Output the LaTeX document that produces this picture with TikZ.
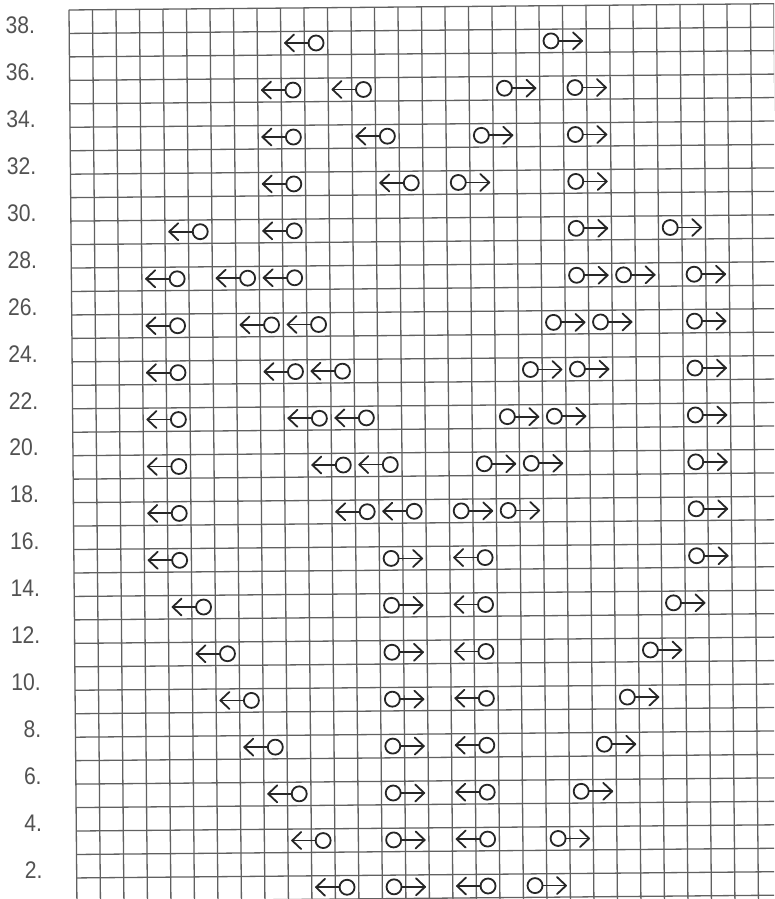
\documentclass[tikz,border=0pt]{standalone}
\usepackage{fontspec}
\newfontfamily\labfont[FakeStretch=0.88]{Liberation Sans}
\begin{document}
\begin{tikzpicture}[
  gridline/.style={line width=1.3pt, draw=black!62},
  symline/.style={line width=1.8pt, draw=black!85, line cap=round, line join=round},
  lab/.style={font=\labfont\fontsize{24}{26}\selectfont, text=black!68, anchor=base east, inner sep=0pt},
  lsym/.pic={
    \draw[symline] (0,0) circle[radius=7.5pt];
    \draw[symline] (-7.5pt,0) -- (-31pt,0);
    \draw[symline] (-22pt,8.5pt) -- (-31pt,0) -- (-22pt,-8.5pt);
  },
  rsym/.pic={
    \draw[symline] (0,0) circle[radius=7.5pt];
    \draw[symline] (7.5pt,0) -- (31pt,0);
    \draw[symline] (22pt,8.5pt) -- (31pt,0) -- (22pt,-8.5pt);
  }
]
\fill[white] (0,0) rectangle (774pt,899pt);
\useasboundingbox (0,0) rectangle (774pt,899pt);
\begin{scope}
\clip (0,0) rectangle (774pt,899pt);
\begin{scope}[shift={(69pt,889pt)}, rotate=0.51, x=23.5pt, y=-23.46pt]
  \foreach \i in {0,...,38} \draw[gridline] (0,\i) -- (31,\i);
  \foreach \c in {0,...,31} \draw[gridline] (\c,0) -- (\c,38.5);
  \foreach \r in {38,36,...,2} \node[lab] (lab\r) at (-1.45,{39-\r}) {\r.};
  \foreach \r/\ls/\rs in {
    37/{11}/{21},
    35/{10,13}/{19,22},
    33/{10,14}/{18,22},
    31/{10,15}/{17,22},
    29/{6,10}/{22,26},
    27/{5,8,10}/{22,24,27},
    25/{5,9,11}/{21,23,27},
    23/{5,10,12}/{20,22,27},
    21/{5,11,13}/{19,21,27},
    19/{5,12,14}/{18,20,27},
    17/{5,13,15}/{17,19,27},
    15/{5,18}/{14,27},
    13/{6,18}/{14,26},
    11/{7,18}/{14,25},
    9/{8,18}/{14,24},
    7/{9,18}/{14,23},
    5/{10,18}/{14,22},
    3/{11,18}/{14,21},
    1/{12,18}/{14,20}}{
    \foreach \c in \ls \pic at ({\c-0.5},{38.5-\r}) {lsym};
    \foreach \c in \rs \pic at ({\c-0.5},{38.5-\r}) {rsym};
  }
\end{scope}
\end{scope}
\end{tikzpicture}
\end{document}
